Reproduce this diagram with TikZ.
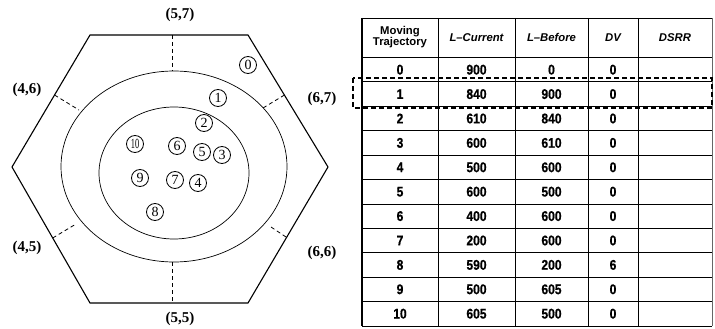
\documentclass[tikz,border=0pt]{standalone}
\usepackage{fontspec}
\setmainfont{Liberation Serif}
\setsansfont{Liberation Sans}
\newfontfamily\tabfont[FakeStretch=0.86,FakeBold=0.6]{Liberation Sans}
\usetikzlibrary{calc}
\tikzset{
  hexline/.style={line width=1.1pt},
  ring/.style={line width=0.7pt},
  sep/.style={line width=0.8pt, dash pattern=on 4pt off 3pt},
  num/.style={circle, draw, line width=0.8pt, inner sep=0pt, minimum size=17pt, font=\fontsize{14}{15}\selectfont},
  lab/.style={font=\fontsize{15}{16}\selectfont\bfseries},
  grid/.style={line width=0.8pt},
  cell/.style={font=\tabfont\fontsize{14}{15}\selectfont\bfseries, inner sep=0pt},
  head/.style={font=\sffamily\fontsize{11.3}{12}\selectfont\bfseries\itshape, inner sep=0pt},
  hilite/.style={line width=1.2pt, dash pattern=on 5pt off 3pt}
}
\begin{document}
\begin{tikzpicture}[x=1pt,y=-1pt]
\useasboundingbox (0,0) rectangle (715,329);
% hexagon
\coordinate (h1) at (90,35);
\coordinate (h2) at (248,35);
\coordinate (h3) at (328,167);
\coordinate (h4) at (248,303);
\coordinate (h5) at (90,303);
\coordinate (h6) at (12,167);
\draw[hexline] (h1) -- (h2) -- (h3) -- (h4) -- (h5) -- (h6) -- cycle;
% rings
\draw[ring] (174,166.5) ellipse [x radius=113, y radius=95.5];
\draw[ring] (174,173) ellipse [x radius=75, y radius=66];
% separators
\coordinate (s1a) at (172,35);   \coordinate (s1b) at (172,71);
\coordinate (s2a) at (172,262);  \coordinate (s2b) at (172,303);
\coordinate (s3a) at (54.5,95);  \coordinate (s3b) at (79,110);
\coordinate (s4a) at (284.5,95); \coordinate (s4b) at (263,108);
\coordinate (s5a) at (52.7,238); \coordinate (s5b) at (76,224);
\coordinate (s6a) at (286,237);  \coordinate (s6b) at (271,227);
\draw[sep] (s1a) -- (s1b);
\draw[sep] (s2a) -- (s2b);
\draw[sep] (s3a) -- (s3b);
\draw[sep] (s4a) -- (s4b);
\draw[sep] (s5a) -- (s5b);
\draw[sep] (s6a) -- (s6b);
% cell labels
\node[lab] (l57) at (180,15) {(5,7)};
\node[lab] (l46) at (27,90) {(4,6)};
\node[lab] (l67) at (322,99) {(6,7)};
\node[lab] (l45) at (27,248) {(4,5)};
\node[lab] (l66) at (322,253) {(6,6)};
\node[lab] (l55) at (180,319) {(5,5)};
% trajectory points
\node[num] (n0) at (248,65) {0};
\node[num] (n1) at (218,98) {1};
\node[num] (n2) at (204,123) {2};
\node[num] (n3) at (222,155) {3};
\node[num] (n4) at (198,183) {4};
\node[num] (n5) at (202,152) {5};
\node[num] (n6) at (177,146) {6};
\node[num] (n7) at (175,180) {7};
\node[num] (n8) at (155,212) {8};
\node[num] (n9) at (140,178) {9};
\node[num] (n10) at (135,144) {\scalebox{0.6}[1]{10}};
% table grid
\draw[grid] (362,18) -- (712,18);
\draw[grid] (362,57.5) -- (712,57.5);
\foreach \k in {1,...,11} {
  \pgfmathsetmacro\yy{57.5+24.4*\k}
  \draw[grid] (362,\yy) -- (712,\yy);
}
\draw[line width=1.4pt] (362,18) -- (362,326);
\foreach \xx in {438,515,588,638} {
  \draw[grid] (\xx,18) -- (\xx,326);
}
\draw[line width=0.6pt, black!60] (712,18) -- (712,326);
% header
\node[font=\sffamily\fontsize{11.3}{12}\selectfont\bfseries, align=center, inner sep=0pt] (hA) at (400,37.5) {Moving\\[-1pt]Trajectory};
\node[head] (hB) at (476.5,37.5) {L–Current};
\node[head] (hC) at (551.5,37.5) {L–Before};
\node[head] (hD) at (613,37.5) {DV};
\node[head] (hE) at (675,37.5) {DSRR};
% rows
\foreach \i/\a/\b/\c/\d in {0/0/900/0/0, 1/1/840/900/0, 2/2/610/840/0, 3/3/600/610/0, 4/4/500/600/0, 5/5/600/500/0, 6/6/400/600/0, 7/7/200/600/0, 8/8/590/200/6, 9/9/500/605/0, 10/10/605/500/0} {
  \pgfmathsetmacro\yc{57.5+24.4*(\i+0.5)}
  \node[cell] (ra\i) at (400,\yc) {\a};
  \node[cell] (rb\i) at (476.5,\yc) {\b};
  \node[cell] (rc\i) at (551.5,\yc) {\c};
  \node[cell] (rd\i) at (613,\yc) {\d};
}
% highlight box around row 1
\draw[hilite] (353,78) rectangle (712,108);
\end{tikzpicture}
\end{document}
